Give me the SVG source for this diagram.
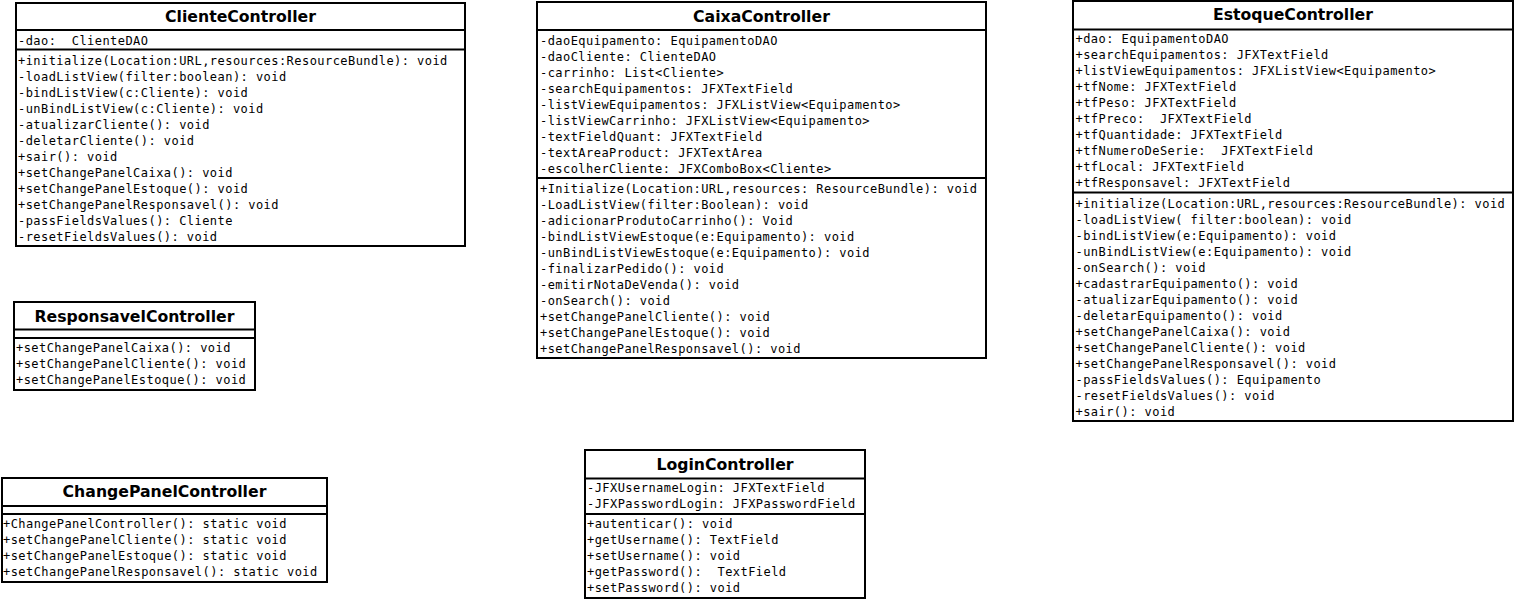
<svg xmlns="http://www.w3.org/2000/svg" width="1516" height="600" viewBox="0 0 1516 600">
<style>
  .box { fill: #ffffff; stroke: #000000; stroke-width: 2; }
  .sep { stroke: #000000; stroke-width: 2; }
  .title { font-family: "DejaVu Sans", Verdana, sans-serif; font-weight: bold; font-size: 15.7px; fill: #000; text-anchor: middle; }
  .m { font-family: "DejaVu Sans Mono", "Liberation Mono", monospace; font-size: 12px; letter-spacing: 0.45px; fill: #000; white-space: pre; }
</style>
<rect x="0" y="0" width="1516" height="600" fill="#ffffff"/>
<g id="connectors"/>

<g id="ClienteController">
  <rect class="box" x="16" y="3" width="449" height="243"/>
  <line class="sep" x1="16" y1="30" x2="465" y2="30"/>
  <line class="sep" x1="16" y1="49.5" x2="465" y2="49.5"/>
  <text class="title" x="240.5" y="22">ClienteController</text>
  <text class="m" x="18" y="45" xml:space="preserve">-dao:  ClienteDAO</text>
  <text class="m" x="18" y="65">+initialize(Location:URL,resources:ResourceBundle): void</text>
  <text class="m" x="18" y="81">-loadListView(filter:boolean): void</text>
  <text class="m" x="18" y="97">-bindListView(c:Cliente): void</text>
  <text class="m" x="18" y="113">-unBindListView(c:Cliente): void</text>
  <text class="m" x="18" y="129">-atualizarCliente(): void</text>
  <text class="m" x="18" y="145">-deletarCliente(): void</text>
  <text class="m" x="18" y="161">+sair(): void</text>
  <text class="m" x="18" y="177">+setChangePanelCaixa(): void</text>
  <text class="m" x="18" y="193">+setChangePanelEstoque(): void</text>
  <text class="m" x="18" y="209">+setChangePanelResponsavel(): void</text>
  <text class="m" x="18" y="225">-passFieldsValues(): Cliente</text>
  <text class="m" x="18" y="241">-resetFieldsValues(): void</text>
</g>

<g id="CaixaController">
  <rect class="box" x="537" y="2" width="449" height="356"/>
  <line class="sep" x1="537" y1="30" x2="986" y2="30"/>
  <line class="sep" x1="537" y1="178" x2="986" y2="178"/>
  <text class="title" x="761.5" y="21.5">CaixaController</text>
  <text class="m" x="540" y="45">-daoEquipamento: EquipamentoDAO</text>
  <text class="m" x="540" y="61">-daoCliente: ClienteDAO</text>
  <text class="m" x="540" y="77">-carrinho: List&lt;Cliente&gt;</text>
  <text class="m" x="540" y="93">-searchEquipamentos: JFXTextField</text>
  <text class="m" x="540" y="109">-listViewEquipamentos: JFXListView&lt;Equipamento&gt;</text>
  <text class="m" x="540" y="125">-listViewCarrinho: JFXListView&lt;Equipamento&gt;</text>
  <text class="m" x="540" y="141">-textFieldQuant: JFXTextField</text>
  <text class="m" x="540" y="157">-textAreaProduct: JFXTextArea</text>
  <text class="m" x="540" y="173">-escolherCliente: JFXComboBox&lt;Cliente&gt;</text>
  <text class="m" x="540" y="193">+Initialize(Location:URL,resources: ResourceBundle): void</text>
  <text class="m" x="540" y="209">-LoadListView(filter:Boolean): void</text>
  <text class="m" x="540" y="225">-adicionarProdutoCarrinho(): Void</text>
  <text class="m" x="540" y="241">-bindListViewEstoque(e:Equipamento): void</text>
  <text class="m" x="540" y="257">-unBindListViewEstoque(e:Equipamento): void</text>
  <text class="m" x="540" y="273">-finalizarPedido(): void</text>
  <text class="m" x="540" y="289">-emitirNotaDeVenda(): void</text>
  <text class="m" x="540" y="305">-onSearch(): void</text>
  <text class="m" x="540" y="321">+setChangePanelCliente(): void</text>
  <text class="m" x="540" y="337">+setChangePanelEstoque(): void</text>
  <text class="m" x="540" y="353">+setChangePanelResponsavel(): void</text>
</g>

<g id="EstoqueController">
  <rect class="box" x="1073" y="1" width="440" height="420"/>
  <line class="sep" x1="1073" y1="29.5" x2="1513" y2="29.5"/>
  <line class="sep" x1="1073" y1="192.5" x2="1513" y2="192.5"/>
  <text class="title" x="1293" y="20">EstoqueController</text>
  <text class="m" x="1075.5" y="43">+dao: EquipamentoDAO</text>
  <text class="m" x="1075.5" y="59">+searchEquipamentos: JFXTextField</text>
  <text class="m" x="1075.5" y="75">+listViewEquipamentos: JFXListView&lt;Equipamento&gt;</text>
  <text class="m" x="1075.5" y="91">+tfNome: JFXTextField</text>
  <text class="m" x="1075.5" y="107">+tfPeso: JFXTextField</text>
  <text class="m" x="1075.5" y="123" xml:space="preserve">+tfPreco:  JFXTextField</text>
  <text class="m" x="1075.5" y="139">+tfQuantidade: JFXTextField</text>
  <text class="m" x="1075.5" y="155" xml:space="preserve">+tfNumeroDeSerie:  JFXTextField</text>
  <text class="m" x="1075.5" y="171">+tfLocal: JFXTextField</text>
  <text class="m" x="1075.5" y="187">+tfResponsavel: JFXTextField</text>
  <text class="m" x="1075.5" y="207.5">+initialize(Location:URL,resources:ResourceBundle): void</text>
  <text class="m" x="1075.5" y="223.5" xml:space="preserve">-loadListView( filter:boolean): void</text>
  <text class="m" x="1075.5" y="239.5">-bindListView(e:Equipamento): void</text>
  <text class="m" x="1075.5" y="255.5">-unBindListView(e:Equipamento): void</text>
  <text class="m" x="1075.5" y="271.5">-onSearch(): void</text>
  <text class="m" x="1075.5" y="287.5">+cadastrarEquipamento(): void</text>
  <text class="m" x="1075.5" y="303.5">-atualizarEquipamento(): void</text>
  <text class="m" x="1075.5" y="319.5">-deletarEquipamento(): void</text>
  <text class="m" x="1075.5" y="335.5">+setChangePanelCaixa(): void</text>
  <text class="m" x="1075.5" y="351.5">+setChangePanelCliente(): void</text>
  <text class="m" x="1075.5" y="367.5">+setChangePanelResponsavel(): void</text>
  <text class="m" x="1075.5" y="383.5">-passFieldsValues(): Equipamento</text>
  <text class="m" x="1075.5" y="399.5">-resetFieldsValues(): void</text>
  <text class="m" x="1075.5" y="415.5">+sair(): void</text>
</g>

<g id="ResponsavelController">
  <rect class="box" x="14" y="302" width="241" height="88"/>
  <line class="sep" x1="14" y1="329.5" x2="255" y2="329.5"/>
  <line class="sep" x1="14" y1="338" x2="255" y2="338"/>
  <text class="title" x="134.5" y="321.5">ResponsavelController</text>
  <text class="m" x="16" y="352">+setChangePanelCaixa(): void</text>
  <text class="m" x="16" y="368">+setChangePanelCliente(): void</text>
  <text class="m" x="16" y="384">+setChangePanelEstoque(): void</text>
</g>

<g id="ChangePanelController">
  <rect class="box" x="2" y="478" width="325" height="104"/>
  <line class="sep" x1="2" y1="506" x2="327" y2="506"/>
  <line class="sep" x1="2" y1="514" x2="327" y2="514"/>
  <text class="title" x="164.5" y="497">ChangePanelController</text>
  <text class="m" x="3" y="528">+ChangePanelController(): static void</text>
  <text class="m" x="3" y="544">+setChangePanelCliente(): static void</text>
  <text class="m" x="3" y="560">+setChangePanelEstoque(): static void</text>
  <text class="m" x="3" y="576">+setChangePanelResponsavel(): static void</text>
</g>

<g id="LoginController">
  <rect class="box" x="585" y="450" width="280" height="148"/>
  <line class="sep" x1="585" y1="478.5" x2="865" y2="478.5"/>
  <line class="sep" x1="585" y1="514" x2="865" y2="514"/>
  <text class="title" x="725" y="470">LoginController</text>
  <text class="m" x="587" y="492">-JFXUsernameLogin: JFXTextField</text>
  <text class="m" x="587" y="508">-JFXPasswordLogin: JFXPasswordField</text>
  <text class="m" x="587" y="528">+autenticar(): void</text>
  <text class="m" x="587" y="544">+getUsername(): TextField</text>
  <text class="m" x="587" y="560">+setUsername(): void</text>
  <text class="m" x="587" y="576" xml:space="preserve">+getPassword():  TextField</text>
  <text class="m" x="587" y="592">+setPassword(): void</text>
</g>
</svg>
